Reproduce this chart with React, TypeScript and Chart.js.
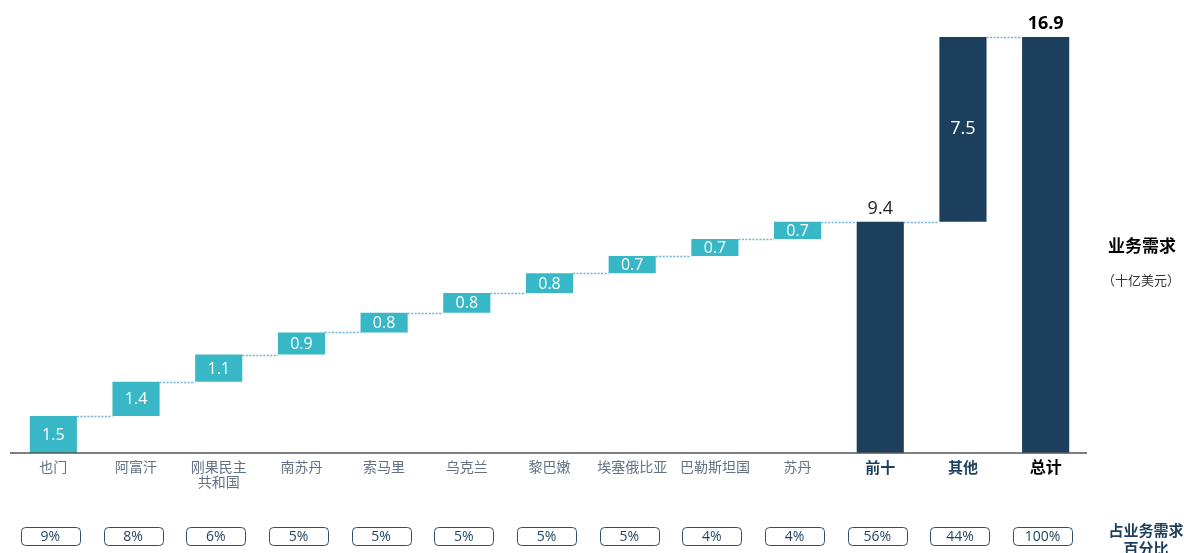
import React, { useEffect, useRef } from "react";
import { Chart, registerables } from "chart.js";

Chart.register(...registerables);

const categories: string[][] = [
  ["也门"], ["阿富汗"], ["刚果民主", "共和国"], ["南苏丹"], ["索马里"], ["乌克兰"],
  ["黎巴嫩"], ["埃塞俄比亚"], ["巴勒斯坦国"], ["苏丹"], ["前十"], ["其他"], ["总计"],
];
const countryValues: number[] = [1.5, 1.4, 1.1, 0.9, 0.8, 0.8, 0.8, 0.7, 0.7, 0.7];
const top10Value = 9.4;
const otherValue = 7.5;
const totalValue = 16.9;
const shares: string[] = ["9%", "8%", "6%", "5%", "5%", "5%", "5%", "5%", "4%", "4%", "56%", "44%", "100%"];

const TEAL = "#38b7c6";
const NAVY = "#1d3f5e";
const CJK = '"Noto Sans CJK SC", "Noto Sans", sans-serif';
const NUM = '"Open Sans", "Noto Sans", sans-serif';

function buildRanges(): [number, number][] {
  const out: [number, number][] = [];
  let acc = 0;
  countryValues.forEach((v) => {
    out.push([acc, acc + v]);
    acc += v;
  });
  out.push([0, top10Value]);
  out.push([top10Value, top10Value + otherValue]);
  out.push([0, totalValue]);
  return out;
}

const overlay = {
  id: "overlay",
  afterDatasetsDraw(chart: any) {
    const ctx = chart.ctx as CanvasRenderingContext2D;
    const meta = chart.getDatasetMeta(0);
    const ys = chart.scales.y;
    const ranges: [number, number][] = chart.data.datasets[0].data;
    const n = ranges.length;
    ctx.save();
    // connectors
    ctx.strokeStyle = "#6eb2dc";
    ctx.lineWidth = 1.5;
    ctx.setLineDash([2, 1.5]);
    for (let i = 0; i < n - 1; i++) {
      const a = meta.data[i];
      const b = meta.data[i + 1];
      const level = ranges[i][1];
      const y = Math.round(ys.getPixelForValue(level)) + 0.5;
      ctx.beginPath();
      ctx.moveTo(a.x + a.width / 2, y);
      ctx.lineTo(b.x - b.width / 2, y);
      ctx.stroke();
    }
    ctx.setLineDash([]);
    // axis line
    const y0 = ys.getPixelForValue(0);
    ctx.strokeStyle = "#555555";
    ctx.lineWidth = 1.5;
    ctx.beginPath();
    ctx.moveTo(10, y0);
    ctx.lineTo(chart.chartArea.right, y0);
    ctx.stroke();

    // value labels
    ctx.textAlign = "center";
    ctx.textBaseline = "middle";
    for (let i = 0; i < n; i++) {
      const el = meta.data[i];
      const [s, e] = ranges[i];
      const val = e - s;
      const mid = (ys.getPixelForValue(s) + ys.getPixelForValue(e)) / 2;
      if (i < countryValues.length) {
        ctx.fillStyle = "#ffffff";
        ctx.font = `16px ${NUM}`;
        ctx.fillText(val.toFixed(1), el.x, mid + 1);
      } else if (i === 10) {
        ctx.fillStyle = "#222222";
        ctx.font = `18px ${NUM}`;
        ctx.fillText(val.toFixed(1), el.x, ys.getPixelForValue(e) - 13);
      } else if (i === 11) {
        ctx.fillStyle = "#ffffff";
        ctx.font = `18px ${NUM}`;
        ctx.fillText(val.toFixed(1), el.x, mid);
      } else {
        ctx.fillStyle = "#000000";
        ctx.font = `bold 18px ${NUM}`;
        ctx.fillText(val.toFixed(1), el.x, ys.getPixelForValue(e) - 13);
      }
    }

    // category labels
    for (let i = 0; i < n; i++) {
      const el = meta.data[i];
      const lines = categories[i];
      if (i < 10) {
        ctx.fillStyle = "#627284";
        ctx.font = `14px ${CJK}`;
      } else if (i < 12) {
        ctx.fillStyle = NAVY;
        ctx.font = `bold 15px ${CJK}`;
      } else {
        ctx.fillStyle = "#000000";
        ctx.font = `bold 16px ${CJK}`;
      }
      lines.forEach((ln, k) => ctx.fillText(ln, el.x, y0 + 14 + k * 15));
    }

    // share boxes
    for (let i = 0; i < n; i++) {
      const el = meta.data[i];
      const cx = el.x - 3;
      const w = 59;
      const h = 18;
      const top = 527;
      ctx.strokeStyle = "#2f4e6c";
      ctx.lineWidth = 1;
      ctx.beginPath();
      (ctx as any).roundRect(Math.round(cx - w / 2) + 0.5, top + 0.5, w, h, 4);
      ctx.stroke();
      ctx.fillStyle = NAVY;
      ctx.font = `14px ${NUM}`;
      ctx.fillText(shares[i], cx, top + h / 2 + 1);
    }

    // right-side labels
    ctx.textAlign = "left";
    ctx.fillStyle = "#000000";
    ctx.font = `bold 17px ${CJK}`;
    ctx.fillText("业务需求", 1108, 246);
    ctx.fillStyle = "#333333";
    ctx.font = `13px ${CJK}`;
    ctx.fillText("（十亿美元）", 1102, 280);
    ctx.textAlign = "center";
    ctx.fillStyle = NAVY;
    ctx.font = `bold 15px ${CJK}`;
    ctx.fillText("占业务需求", 1146, 530);
    ctx.fillText("百分比", 1146, 548);
    ctx.restore();
  },
};

export default function App() {
  const ref = useRef<HTMLCanvasElement | null>(null);
  useEffect(() => {
    if (!ref.current) return;
    const ranges = buildRanges();
    const colors = ranges.map((_, i) => (i < countryValues.length ? TEAL : NAVY));
    const chart = new Chart(ref.current, {
      type: "bar",
      data: {
        labels: categories.map((c) => c.join("")),
        datasets: [
          {
            data: ranges as any,
            backgroundColor: colors,
            borderWidth: 0,
            borderSkipped: false,
            barPercentage: 0.57,
            categoryPercentage: 1,
          },
        ],
      },
      options: {
        animation: false,
        responsive: false,
        devicePixelRatio: 1,
        layout: { padding: { left: 12, right: 97, top: 10, bottom: 100 } },
        plugins: { legend: { display: false }, tooltip: { enabled: false } },
        scales: {
          x: { display: false },
          y: { display: false, min: 0, max: 18 },
        },
      },
      plugins: [overlay],
    });
    return () => chart.destroy();
  }, []);
  return (
    <div style={{ position: "fixed", left: 0, top: 0, width: 1184, height: 553, background: "#fff" }}>
      <canvas ref={ref} width={1184} height={553} style={{ width: 1184, height: 553, display: "block" }} />
    </div>
  );
}
